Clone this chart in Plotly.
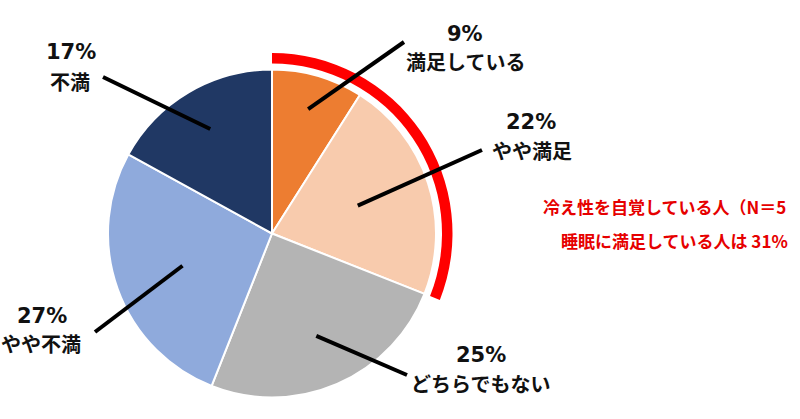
import math
import plotly.graph_objects as go

# ---- data ----
labels = ["満足している", "やや満足", "どちらでもない", "やや不満", "不満"]
values = [9, 22, 25, 27, 17]
colors = ["#ED7D31", "#F8CBAD", "#B4B4B4", "#8FAADC", "#203864"]
satisfied_count = 2  # first two categories = satisfied
note_line1 = "冷え性を自覚している人（N＝5"
note_line2 = "睡眠に満足している人は 31%"

# ---- layout constants (pixels) ----
W, H = 800, 419
CX, CY, R = 272, 233.5, 164
RING_IN, RING_OUT = 170, 180.5
FONT = "Noto Sans CJK JP"
PCT_FONT = "DejaVu Sans"

def px_x(x):
    return x / W

def px_y(y):
    return 1 - y / H

fig = go.Figure()

fig.add_trace(go.Pie(
    labels=labels, values=values, sort=False, direction="clockwise", rotation=0,
    marker=dict(colors=colors, line=dict(color="white", width=2)),
    textinfo="none", hoverinfo="label+percent", showlegend=False,
    domain=dict(x=[px_x(CX - R), px_x(CX + R)], y=[px_y(CY + R), px_y(CY - R)]),
))

sat = sum(values[:satisfied_count])
rest = sum(values[satisfied_count:])
fig.add_trace(go.Pie(
    labels=["satisfied", "other"], values=[sat, rest], sort=False,
    direction="clockwise", rotation=0, hole=RING_IN / RING_OUT,
    marker=dict(colors=["#FF0000", "rgba(0,0,0,0)"], line=dict(width=0)),
    textinfo="none", hoverinfo="skip", showlegend=False,
    domain=dict(x=[px_x(CX - RING_OUT), px_x(CX + RING_OUT)],
                y=[px_y(CY + RING_OUT), px_y(CY - RING_OUT)]),
))

# label placement (pixel positions of text and leader-line outer ends)
label_pos = [
    # (pct center, name center, outer line end, radial fraction of inner end)
    ((465, 34), (465, 61), (404, 42), 0.79),
    ((531, 122), (532, 150), (482, 150), 0.55),
    ((481, 355), (481, 383), (407, 375), 0.68),
    ((42, 316), (41, 343), (95, 332), 0.58),
    ((71, 52), (70, 81), (103, 77), 0.74),
]

total = sum(values)
cum = 0
shapes = []
annotations = []
for v, name, (pc, nc, outer, frac) in zip(values, labels, label_pos):
    mid = (cum + v / 2) / total * 2 * math.pi
    cum += v
    ix = CX + frac * R * math.sin(mid)
    iy = CY - frac * R * math.cos(mid)
    shapes.append(dict(type="line", xref="paper", yref="paper",
                       x0=px_x(ix), y0=px_y(iy), x1=px_x(outer[0]), y1=px_y(outer[1]),
                       line=dict(color="black", width=4)))
    annotations.append(dict(x=px_x(pc[0]), y=px_y(pc[1]), xref="paper", yref="paper",
                            text=f"<b>{v}%</b>", showarrow=False,
                            xanchor="center", yanchor="middle",
                            font=dict(family=PCT_FONT, size=21, color="#111111")))
    annotations.append(dict(x=px_x(nc[0]), y=px_y(nc[1]), xref="paper", yref="paper",
                            text=f"<b>{name}</b>", showarrow=False,
                            xanchor="center", yanchor="middle",
                            font=dict(family=FONT, size=20, color="#111111")))

annotations.append(dict(x=px_x(541), y=px_y(206), xref="paper", yref="paper",
                        text=f"<b>{note_line1}</b>", showarrow=False,
                        xanchor="left", yanchor="middle",
                        font=dict(family=FONT, size=17, color="#E60000")))
annotations.append(dict(x=px_x(559), y=px_y(241), xref="paper", yref="paper",
                        text=f"<b>{note_line2}</b>", showarrow=False,
                        xanchor="left", yanchor="middle",
                        font=dict(family=FONT, size=17, color="#E60000")))

fig.update_layout(
    width=W, height=H, margin=dict(l=0, r=0, t=0, b=0),
    paper_bgcolor="white", plot_bgcolor="white",
    shapes=shapes, annotations=annotations,
)

fig.write_html("out.html", config={"displayModeBar": False},
               post_script="document.body.style.margin='0';")
